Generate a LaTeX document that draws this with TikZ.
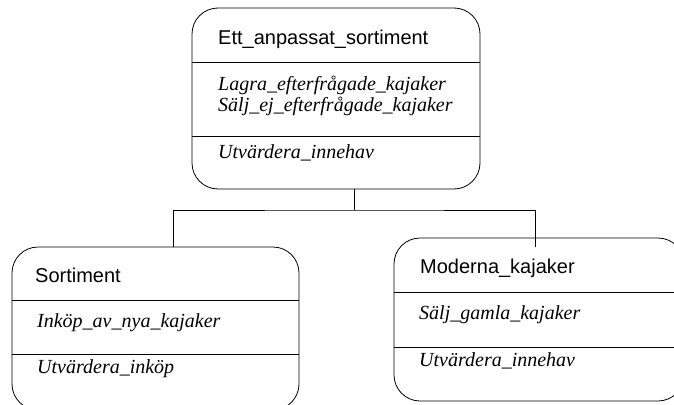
\documentclass[tikz,border=0pt]{standalone}
\usepackage{fontspec}
\newfontfamily\headfont{Liberation Sans}
\newfontfamily\opfont{Liberation Serif}

\begin{document}
\begin{tikzpicture}[
    x=1pt, y=-1pt,
    classbox/.style={draw, line width=0.8pt, rounded corners=26pt, inner sep=0pt},
    classname/.style={anchor=base west, inner sep=0pt, font=\headfont\fontsize{20}{24}\selectfont},
    operation/.style={anchor=base west, inner sep=0pt, font=\opfont\itshape\fontsize{20}{24}\selectfont},
    divider/.style={line width=0.8pt},
    link/.style={line width=0.8pt}
]
    \useasboundingbox (0,0) rectangle (674,404);

    % Ett_anpassat_sortiment
    \node[classbox, minimum width=288pt, minimum height=181pt] (topBox) at (336,98.5) {};
    \draw[divider] (topBox.west |- 0,62) -- (topBox.east |- 0,62);
    \draw[divider] (topBox.west |- 0,136) -- (topBox.east |- 0,136);
    \node[classname] (topName) at (218,45) {Ett\_anpassat\_sortiment};
    \node[operation] (topOpA) at (218,90) {Lagra\_efterfrågade\_kajaker};
    \node[operation] (topOpB) at (218,111) {Sälj\_ej\_efterfrågade\_kajaker};
    \node[operation] (topOpC) at (218,158) {Utvärdera\_innehav};

    % Sortiment
    \node[classbox, minimum width=287pt, minimum height=163pt] (leftBox) at (155.5,328.5) {};
    \draw[divider] (leftBox.west |- 0,300) -- (leftBox.east |- 0,300);
    \draw[divider] (leftBox.west |- 0,354) -- (leftBox.east |- 0,354);
    \node[classname] (leftName) at (35,282) {Sortiment};
    \node[operation] (leftOpA) at (37,327) {Inköp\_av\_nya\_kajaker};
    \node[operation] (leftOpB) at (37,373) {Utvärdera\_inköp};

    % Moderna_kajaker
    \node[classbox, minimum width=290pt, minimum height=163pt] (rightBox) at (539,319.5) {};
    \draw[divider] (rightBox.west |- 0,292) -- (rightBox.east |- 0,292);
    \draw[divider] (rightBox.west |- 0,347) -- (rightBox.east |- 0,347);
    \node[classname] (rightName) at (420,273) {Moderna\_kajaker};
    \node[operation] (rightOpA) at (419,319) {Sälj\_gamla\_kajaker};
    \node[operation] (rightOpB) at (419,366) {Utvärdera\_innehav};

    % Connectors
    \coordinate (split) at (354,210);
    \coordinate (leftEnd) at (173,247);
    \coordinate (rightEnd) at (535,247);
    \draw[link] (topBox.south -| split) -- (split);
    \draw[link] (leftEnd) |- (split) -| (rightEnd);
\end{tikzpicture}
\end{document}
